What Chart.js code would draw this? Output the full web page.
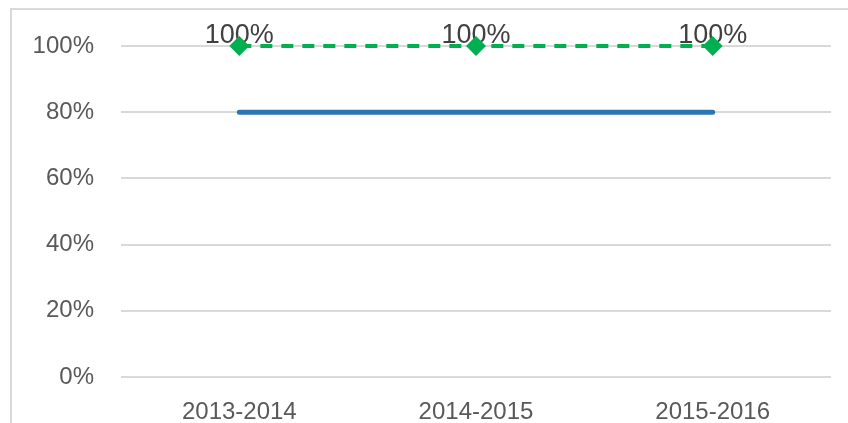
<!DOCTYPE html>
<html>
<head>
<meta charset="utf-8">
<script src="https://cdn.jsdelivr.net/npm/chart.js@4.4.0/dist/chart.umd.min.js"></script>
<style>
  html, body { margin: 0; padding: 0; background: #fff; }
  #wrap { position: relative; width: 848px; height: 423px; overflow: hidden; }
  #frame { position: absolute; left: 10px; top: 8px; width: 900px; height: 500px; border: 2px solid #d9d9d9; box-sizing: border-box; }
  #chart { position: absolute; left: 0; top: 0; }
</style>
</head>
<body>
<div id="wrap">
  <div id="frame"></div>
  <canvas id="chart" width="848" height="423"></canvas>
</div>
<script>
// Chart data
const years = ['2013-2014', '2014-2015', '2015-2016'];
const solidSeries = [80, 80, 80];
const dashedSeries = [100, 100, 100];
const yTicks = [0, 20, 40, 60, 80, 100];

// Draws "100%" labels above the green diamonds (under the markers)
const pointLabels = {
    id: 'pointLabels',
    beforeDatasetsDraw(chart) {
        const ctx = chart.ctx;
        const meta = chart.getDatasetMeta(1);
        ctx.save();
        ctx.font = '27px "Liberation Sans", Arial, sans-serif';
        ctx.fillStyle = '#404040';
        ctx.textAlign = 'center';
        ctx.textBaseline = 'alphabetic';
        meta.data.forEach((pt, i) => {
            ctx.fillText(dashedSeries[i] + '%', pt.x, pt.y - 3);
        });
        ctx.restore();
    }
};

const ctx = document.getElementById('chart').getContext('2d');

new Chart(ctx, {
    type: 'line',
    data: {
        labels: years,
        datasets: [
            {
                data: solidSeries,
                borderColor: '#2e75b6',
                borderWidth: 5,
                borderCapStyle: 'round',
                pointRadius: 0,
                clip: false,
                fill: false
            },
            {
                data: dashedSeries,
                borderColor: '#00b050',
                borderWidth: 4,
                borderDash: [12, 9],
                pointStyle: 'rectRot',
                pointRadius: 10,
                pointBackgroundColor: '#00b050',
                pointBorderColor: '#00b050',
                pointBorderWidth: 0,
                clip: false,
                fill: false
            }
        ]
    },
    options: {
        responsive: false,
        animation: false,
        events: [],
        layout: { padding: { top: 46, right: 17, bottom: 0, left: 0 } },
        plugins: {
            legend: { display: false },
            tooltip: { enabled: false }
        },
        scales: {
            x: {
                offset: true,
                grid: { display: false, drawTicks: false },
                border: { display: false },
                ticks: {
                    color: '#595959',
                    font: { family: '"Liberation Sans", Arial, sans-serif', size: 24 },
                    padding: 21
                },
                afterFit(scale) { scale.height = 46; }
            },
            y: {
                min: 0,
                max: 100,
                afterBuildTicks(scale) { scale.ticks = yTicks.map(v => ({ value: v })); },
                grid: { color: '#d9d9d9', lineWidth: 2, drawTicks: false },
                border: { display: false },
                ticks: {
                    color: '#595959',
                    font: { family: '"Liberation Sans", Arial, sans-serif', size: 24 },
                    padding: 27,
                    callback: v => v + '%'
                },
                afterFit(scale) { scale.width = 121; }
            }
        }
    },
    plugins: [pointLabels]
});
</script>
</body>
</html>
